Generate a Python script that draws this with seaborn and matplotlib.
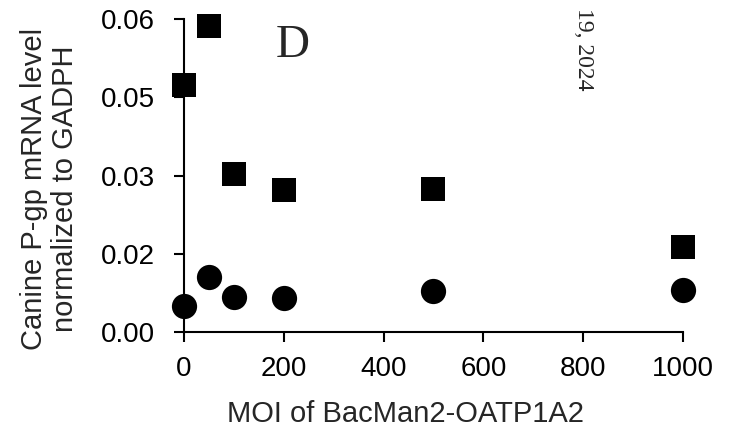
import matplotlib
matplotlib.use("Agg")
import matplotlib.pyplot as plt
import seaborn as sns
import pandas as pd

moi = [0, 50, 100, 200, 500, 1000]
square_vals = [0.0474, 0.0587, 0.0303, 0.0272, 0.0275, 0.0164]
circle_vals = [0.0050, 0.0105, 0.0068, 0.0065, 0.0079, 0.0080]
y_ticks = [0.0, 0.015, 0.03, 0.045, 0.06]
y_tick_labels = ["0.00", "0.02", "0.03", "0.05", "0.06"]
x_ticks = [0, 200, 400, 600, 800, 1000]

sns.set_style("ticks")
plt.rcParams['font.family'] = ['Liberation Sans', 'DejaVu Sans']

fig = plt.figure(figsize=(7.31, 4.36), dpi=100)
ax = fig.add_axes([0.2517, 0.2385, 0.6826, 0.7172])

df_sq = pd.DataFrame({"moi": moi, "val": square_vals})
df_ci = pd.DataFrame({"moi": moi, "val": circle_vals})

sns.scatterplot(data=df_sq, x="moi", y="val", marker="s", color="black", s=300,
                linewidth=0, ax=ax, clip_on=False, zorder=3)
sns.scatterplot(data=df_ci, x="moi", y="val", marker="o", color="black", s=330,
                linewidth=0, ax=ax, clip_on=False, zorder=3)

ax.set_xlim(0, 1000)
ax.set_ylim(0, 0.06)
ax.set_xticks(x_ticks)
ax.set_yticks(y_ticks)
ax.set_yticklabels(y_tick_labels)

for s in ["top", "right"]:
    ax.spines[s].set_visible(False)
for s in ["left", "bottom"]:
    ax.spines[s].set_color("black")
    ax.spines[s].set_linewidth(1.5)

ax.tick_params(axis="both", direction="out", length=7, width=1.5, colors="black",
               labelsize=20)
ax.tick_params(axis="y", pad=14)
ax.tick_params(axis="x", pad=10.5)

ax.set_xlabel("MOI of BacMan2-OATP1A2", fontsize=21, va="top", ha="center")
ax.xaxis.set_label_coords(0.444, -0.216)
ax.set_ylabel("Canine P-gp mRNA level\nnormalized to GADPH", fontsize=21,
              linespacing=1.1, va="center", ha="center")
ax.yaxis.set_label_coords(-0.2695, 0.457)

fig.text(293 / 731, 1 - 46 / 436, "D", fontsize=34,
         family="Liberation Serif", ha="center", va="center")
fig.text(583 / 731, 1 - 49 / 436, "19, 2024", rotation=-90, fontsize=17,
         family="Liberation Serif", ha="center", va="center")

fig.savefig("out.png", dpi=100)
